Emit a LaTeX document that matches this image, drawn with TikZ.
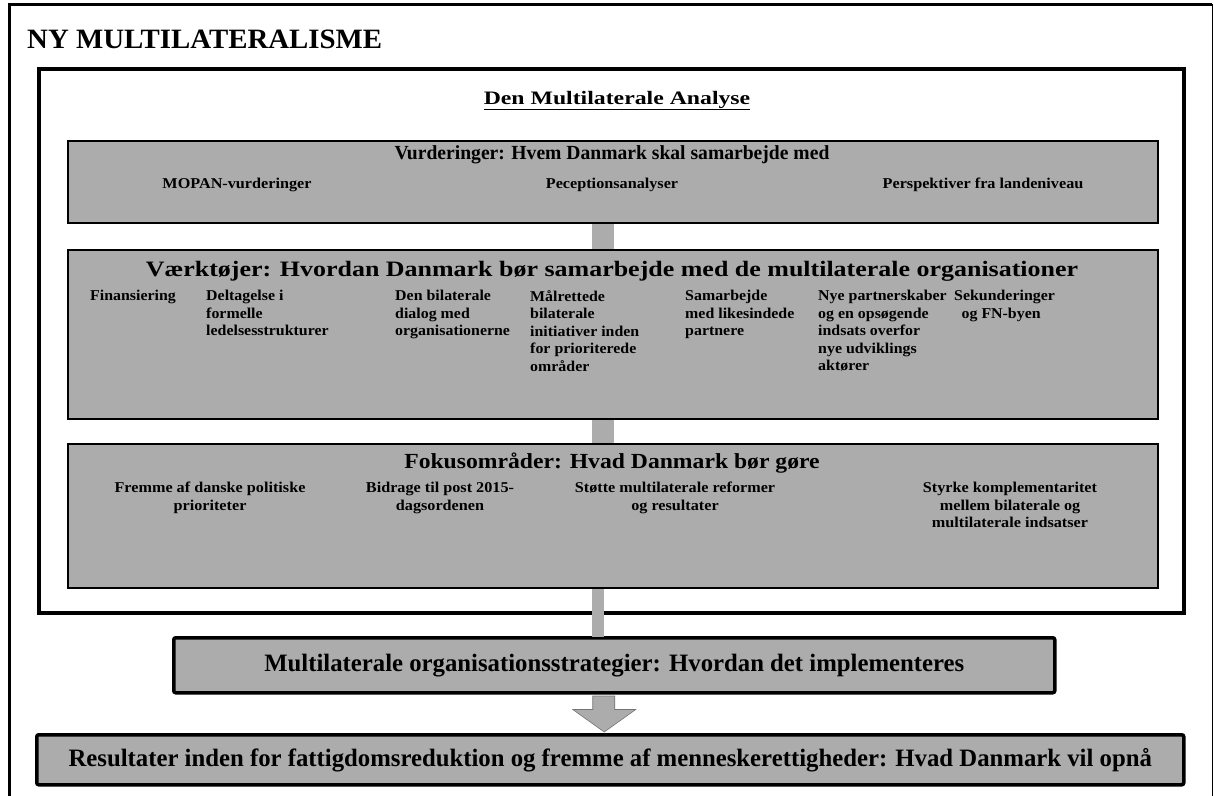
\documentclass[tikz,border=0pt]{standalone}
\usepackage{fontspec}
\setmainfont{Liberation Serif}
\definecolor{boxgray}{RGB}{172,172,172}
\begin{document}
\begin{tikzpicture}[x=1pt,y=-1pt,
  gbox/.style={fill=boxgray, draw=black, line width=1.6pt, inner sep=0pt},
  tbox/.style={fill=boxgray, draw=black, line width=3.5pt, rounded corners=2pt, inner sep=0pt},
  frame/.style={draw=black, line width=4pt, inner sep=0pt},
  btitle/.style={font=\fontsize{22}{24}\selectfont\bfseries, xscale=1.18, inner sep=0pt},
  bigtext/.style={font=\fontsize{25}{27}\selectfont\bfseries, xscale=0.99, inner sep=0pt},
  item/.style={font=\fontsize{15}{17.5}\selectfont\bfseries, xscale=1.06, inner sep=0pt, align=left, anchor=north west},
  citem/.style={font=\fontsize{15}{17.5}\selectfont\bfseries, xscale=1.08, inner sep=0pt, align=center, anchor=north},
  shaft/.style={fill=boxgray, draw=none}]
\useasboundingbox (0,0) rectangle (1214,795);
% outer frame
\draw[line width=3pt] (9,800) -- (9,4) -- (1212,4);
\draw[line width=1pt] (1212,4) -- (1212,800);
\node[anchor=base west, inner sep=0pt, font=\fontsize{28}{30}\selectfont\bfseries, xscale=1.03] (title) at (27,48) {NY MULTILATERALISME};
% inner analysis frame
\node[frame, anchor=north west, minimum width=1145pt, minimum height=544pt] (inner) at (37,67) {};
\node[anchor=base, inner sep=0pt, font=\fontsize{19}{21}\selectfont\bfseries, xscale=1.25] (head) at (617,104) {\underline{Den Multilaterale Analyse}};
% boxes
\node[gbox, anchor=north west, minimum width=1090pt, minimum height=82pt] (b1) at (67,140) {};
\node[gbox, anchor=north west, minimum width=1090pt, minimum height=169pt] (b2) at (67,249) {};
\node[gbox, anchor=north west, minimum width=1090pt, minimum height=144pt] (b3) at (67,443) {};
% connectors
\fill[shaft] ([xshift=-21pt]b1.south) rectangle ([xshift=1pt]b2.north);
\fill[shaft] ([xshift=-21pt]b2.south) rectangle ([xshift=1pt]b3.north);
\node[tbox, anchor=north west, minimum width=881pt, minimum height=55pt] (b4) at (172,636) {};
\node[tbox, anchor=north west, minimum width=1147pt, minimum height=50pt] (b5) at (35,733) {};
\fill[shaft] ([xshift=-21pt]b3.south) rectangle ([xshift=-10.5pt,yshift=-1pt]b4.north);
\coordinate (tip) at ([xshift=-6pt,yshift=1pt]b5.north);
\filldraw[shaft, draw=black!55, line width=0.6pt] ([xshift=-21.5pt,yshift=-1.5pt]b4.south) -- ([xshift=0.5pt,yshift=-1.5pt]b4.south) -- ([xshift=0.5pt,yshift=-15pt]b4.south) -- ([xshift=21.5pt,yshift=-15pt]b4.south) -- (tip) -- ([xshift=-41.5pt,yshift=-15pt]b4.south) -- ([xshift=-21.5pt,yshift=-15pt]b4.south) -- cycle;
% box 1
\node[font=\fontsize{20}{22}\selectfont\bfseries, xscale=0.98, inner sep=0pt] (t1) at (612,155) {Vurderinger: Hvem Danmark skal samarbejde med};
\node[citem] (v1) at (237,178) {MOPAN-vurderinger};
\node[citem] (v2) at (612,178) {Peceptionsanalyser};
\node[citem] (v3) at (983,178) {Perspektiver fra landeniveau};
% box 2
\node[btitle] (t2) at (612,271) {Værktøjer: Hvordan Danmark bør samarbejde med de multilaterale organisationer};
\node[item] (w1) at (90,290) {Finansiering};
\node[item] (w2) at (206,290) {Deltagelse i\\formelle\\ledelsesstrukturer};
\node[item] (w3) at (395,290) {Den bilaterale\\dialog med\\organisationerne};
\node[item] (w4) at (530,290) {Målrettede\\bilaterale\\initiativer inden\\for prioriterede\\områder};
\node[item] (w5) at (685,290) {Samarbejde\\med likesindede\\partnere};
\node[item] (w6) at (818,290) {Nye partnerskaber\\og en opsøgende\\indsats overfor\\nye udviklings\\aktører};
\node[item] (w7) at (954,290) {Sekunderinger\\\hspace*{7pt}og FN-byen};
% box 3
\node[font=\fontsize{21.5}{24}\selectfont\bfseries, xscale=1.1, inner sep=0pt] (t3) at (612,463) {Fokusområder: Hvad Danmark bør gøre};
\node[citem] (f1) at (210,482) {Fremme af danske politiske\\prioriteter};
\node[citem] (f2) at (440,482) {Bidrage til post 2015-\\dagsordenen};
\node[citem] (f3) at (675,482) {Støtte multilaterale reformer\\og resultater};
\node[citem] (f4) at (1010,482) {Styrke komplementaritet\\mellem bilaterale og\\multilaterale indsatser};
% box 4 and 5 texts
\node[bigtext] (t4) at (b4.center) {Multilaterale organisationsstrategier: Hvordan det implementeres};
\node[bigtext] (t5) at (b5.center) {Resultater inden for fattigdomsreduktion og fremme af menneskerettigheder: Hvad Danmark vil opnå};
\end{tikzpicture}
\end{document}
